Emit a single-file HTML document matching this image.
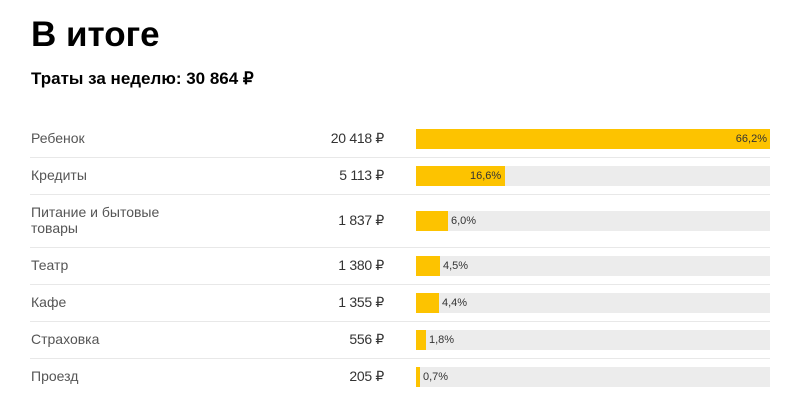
<!DOCTYPE html><html><head><meta charset="utf-8"><style>
body{margin:0;width:799px;height:402px;background:#fff;font-family:"Liberation Sans",sans-serif;position:relative;overflow:hidden}
.a{position:absolute;white-space:nowrap}
h1{position:absolute;left:31px;top:15px;margin:0;font-size:35px;font-weight:bold;color:#000}
.sub{left:31px;top:69px;font-size:17px;font-weight:bold;color:#000}
.l{left:31px;font-size:14px;color:#555;line-height:16px}
.v{right:415px;font-size:14px;color:#333;text-align:right;letter-spacing:-0.3px}
.sep{position:absolute;left:30px;width:740px;height:1px;background:#e8e8e8}
.bg{position:absolute;left:416px;width:354px;height:20px;background:#ececec}
.bar{position:absolute;left:0;top:0;height:20px;background:#fdc300}
.p{position:absolute;top:4px;font-size:11px;color:#333}
</style></head><body>
<h1>В итоге</h1>
<div class="a sub">Траты за неделю: 30 864 ₽</div>

<div class="a l" style="top:130px">Ребенок</div><div class="a v" style="top:130px">20 418 ₽</div>
<div class="bg" style="top:129px"><div class="bar" style="width:354px"></div><span class="p" style="right:3px">66,2%</span></div>
<div class="sep" style="top:157px"></div>

<div class="a l" style="top:167px">Кредиты</div><div class="a v" style="top:167px">5 113 ₽</div>
<div class="bg" style="top:166px"><div class="bar" style="width:89px"></div><span class="p" style="left:54px">16,6%</span></div>
<div class="sep" style="top:194px"></div>

<div class="a l" style="top:204px">Питание и бытовые<br>товары</div><div class="a v" style="top:212px">1 837 ₽</div>
<div class="bg" style="top:211px"><div class="bar" style="width:32px"></div><span class="p" style="left:35px">6,0%</span></div>
<div class="sep" style="top:247px"></div>

<div class="a l" style="top:257px">Театр</div><div class="a v" style="top:257px">1 380 ₽</div>
<div class="bg" style="top:256px"><div class="bar" style="width:24px"></div><span class="p" style="left:27px">4,5%</span></div>
<div class="sep" style="top:284px"></div>

<div class="a l" style="top:294px">Кафе</div><div class="a v" style="top:294px">1 355 ₽</div>
<div class="bg" style="top:293px"><div class="bar" style="width:23px"></div><span class="p" style="left:26px">4,4%</span></div>
<div class="sep" style="top:321px"></div>

<div class="a l" style="top:331px">Страховка</div><div class="a v" style="top:331px">556 ₽</div>
<div class="bg" style="top:330px"><div class="bar" style="width:10px"></div><span class="p" style="left:13px">1,8%</span></div>
<div class="sep" style="top:358px"></div>

<div class="a l" style="top:368px">Проезд</div><div class="a v" style="top:368px">205 ₽</div>
<div class="bg" style="top:367px"><div class="bar" style="width:4px"></div><span class="p" style="left:7px">0,7%</span></div>
</body></html>
